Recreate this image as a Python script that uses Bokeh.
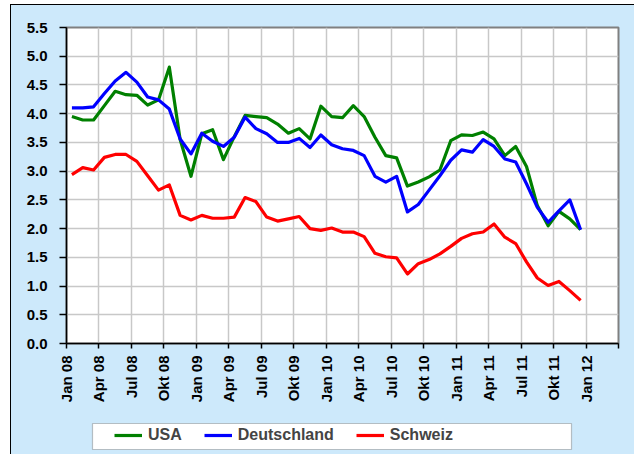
import numpy as np
from math import pi
from bokeh.plotting import figure
from bokeh.layouts import column
from bokeh.models import (Range1d, FixedTicker, PrintfTickFormatter, Legend, LegendItem,
                          ColumnDataSource, BoxAnnotation)
from bokeh.embed import file_html
from bokeh.resources import INLINE

# ---- data (monthly, Jan 2008 .. Dec 2011) ----
usa = [3.95, 3.89, 3.89, 4.14, 4.39, 4.33, 4.32, 4.15, 4.24, 4.81,
       3.55, 2.91, 3.65, 3.72, 3.20, 3.60, 3.97, 3.95, 3.93, 3.82,
       3.66, 3.74, 3.56, 4.13, 3.95, 3.93, 4.14, 3.95, 3.59, 3.27,
       3.23, 2.74, 2.81, 2.90, 3.02, 3.53, 3.63, 3.62, 3.68, 3.56,
       3.27, 3.43, 3.08, 2.40, 2.05, 2.30, 2.17, 1.98]
deutschland = [4.10, 4.10, 4.12, 4.35, 4.57, 4.72, 4.55, 4.29, 4.24, 4.08,
               3.56, 3.30, 3.66, 3.52, 3.43, 3.59, 3.94, 3.74, 3.65, 3.50,
               3.50, 3.57, 3.41, 3.63, 3.46, 3.39, 3.36, 3.27, 2.91, 2.81,
               2.91, 2.29, 2.42, 2.67, 2.92, 3.19, 3.37, 3.33, 3.55, 3.43,
               3.21, 3.16, 2.78, 2.37, 2.11, 2.31, 2.50, 1.98]
schweiz = [2.94, 3.06, 3.02, 3.24, 3.29, 3.29, 3.17, 2.92, 2.67, 2.76,
           2.23, 2.15, 2.23, 2.18, 2.18, 2.20, 2.54, 2.47, 2.20, 2.13,
           2.17, 2.21, 2.00, 1.97, 2.01, 1.94, 1.94, 1.86, 1.57, 1.51,
           1.49, 1.21, 1.39, 1.46, 1.56, 1.69, 1.83, 1.91, 1.94, 2.08,
           1.85, 1.74, 1.42, 1.14, 1.01, 1.08, 0.92, 0.75]
tick_labels = ["Jan 08", "Apr 08", "Jul 08", "Okt 08", "Jan 09", "Apr 09", "Jul 09", "Okt 09",
               "Jan 10", "Apr 10", "Jul 10", "Okt 10", "Jan 11", "Apr 11", "Jul 11", "Okt 11",
               "Jan 12"]
series_names = ["USA", "Deutschland", "Schweiz"]
series_colors = ["#008000", "#0000FF", "#FF0000"]

n = len(usa)
x = np.arange(n) + 0.5          # category centres (month index)
n_slots = 3 * len(tick_labels)  # axis spans quarters up to Apr 12

FONT = "Liberation Sans"
BG = "#cde9fb"
W = 623
BL, BR = 55, 16
FRAME_W = W - BL - BR

# ---------------- main chart ----------------
p = figure(width=W, height=408, output_backend="svg", toolbar_location=None,
           x_range=Range1d(0, n_slots), y_range=Range1d(0, 5.5),
           min_border_left=BL, min_border_right=BR, min_border_top=22, min_border_bottom=70)
p.border_fill_color = BG
p.background_fill_color = "white"
p.outline_line_color = "#808080"
p.outline_line_width = 2

p.xgrid.ticker = FixedTicker(ticks=list(range(0, n_slots + 1, 3)))
p.ygrid.ticker = FixedTicker(ticks=[i * 0.5 for i in range(12)])
for g in (p.xgrid, p.ygrid):
    g.grid_line_color = "#c8c8c8"
    g.grid_line_width = 1.5

xa = p.xaxis[0]
xa.ticker = FixedTicker(ticks=list(range(0, n_slots + 1, 3)))
overrides = {i * 3: lab for i, lab in enumerate(tick_labels)}
overrides[n_slots] = ""
xa.major_label_overrides = overrides
xa.major_label_orientation = pi / 2
xa.major_tick_out = 5
xa.major_tick_in = 0
xa.minor_tick_line_color = None
xa.major_label_standoff = 7
ya = p.yaxis[0]
ya.ticker = FixedTicker(ticks=[i * 0.5 for i in range(12)])
ya.formatter = PrintfTickFormatter(format="%.1f")
ya.major_tick_out = 7
ya.major_tick_in = 0
ya.minor_tick_line_color = None
ya.major_label_standoff = 12
for a in (xa, ya):
    a.axis_line_color = "black"
    a.axis_line_width = 1.5
    a.major_tick_line_color = "black"
    a.major_tick_line_width = 1.5
    a.major_label_text_font = FONT
    a.major_label_text_font_style = "bold"
    a.major_label_text_font_size = "15px"
    a.major_label_text_color = "black"

for name, col, vals in zip(series_names, series_colors, [usa, deutschland, schweiz]):
    src = ColumnDataSource(dict(x=x, y=vals))
    p.line("x", "y", source=src, line_color=col, line_width=3.2, line_join="round")

# ---------------- legend strip (pixel-unit ranges) ----------------
H2 = 41
q = figure(width=W, height=H2, output_backend="svg", toolbar_location=None,
           x_axis_type=None, y_axis_type=None,
           x_range=Range1d(0, FRAME_W), y_range=Range1d(0, H2),
           min_border_left=BL, min_border_right=BR, min_border_top=0, min_border_bottom=0)
q.border_fill_color = BG
q.background_fill_color = BG
q.outline_line_color = None
q.xgrid.visible = False
q.ygrid.visible = False
q.add_layout(BoxAnnotation(left=26, right=505, bottom=5, top=31, fill_color="white", fill_alpha=1,
                           line_color="#404040", line_width=1.2, level="underlay"))
leg_renderers = []
for name, col in zip(series_names, series_colors):
    leg_renderers.append(q.line(x=[np.nan], y=[np.nan], line_color=col, line_width=3.2))
legend = Legend(items=[LegendItem(label=nm, renderers=[r]) for nm, r in zip(series_names, leg_renderers)],
                orientation="horizontal", location=(48, 10), margin=0, padding=0,
                spacing=22, glyph_width=28, glyph_height=16, label_height=16, label_standoff=6,
                label_text_font=FONT, label_text_font_style="bold", label_text_font_size="16px",
                background_fill_alpha=0, border_line_alpha=0)
q.add_layout(legend, "center")

layout = column(p, q, spacing=0,
                styles={"margin-left": "10px", "margin-top": "4px",
                        "border-left": "1px solid black", "border-top": "1px solid black",
                        "background-color": BG})

open("out.html", "w").write(file_html(layout, INLINE))
